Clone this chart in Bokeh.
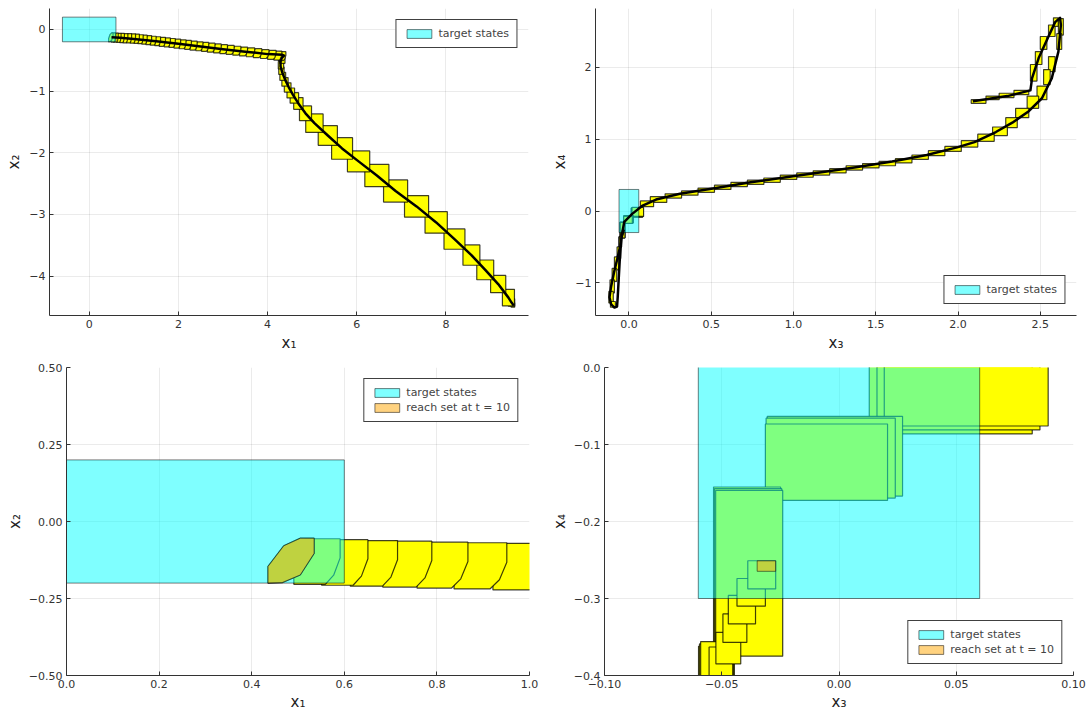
from bokeh.plotting import figure
from bokeh.layouts import row, column
from bokeh.models import Legend, LegendItem, FixedTicker, Range1d
from bokeh.embed import file_html
from bokeh.resources import INLINE

FONT = "DejaVu Sans"
YELLOW = "#ffff00"
CYAN = "#00ffff"
ORANGE = "#ffa500"

# ---------------- data ----------------
# target states (lo, hi) per coordinate
target_x1 = [-0.6, 0.6]
target_x2 = [-0.2, 0.2]
target_x3 = [-0.06, 0.06]
target_x4 = [-0.3, 0.3]

# reach set at t = 10
t10_x1_lo, t10_x2_lo, t10_dx1, t10_dx2 = 0.435, -0.200, 0.100, 0.146
t10_x3 = [-0.0349, -0.0270]
t10_x4 = [-0.2647, -0.2510]

# octagonal reach sets in (x1, x2), from t = 10 backwards: lower-left corner and extent
oct_x1_lo = [0.435, 0.491, 0.551, 0.613, 0.683, 0.757, 0.837, 0.921, 1.005,
             1.09, 1.18, 1.27, 1.37, 1.47, 1.57, 1.68, 1.79, 1.90, 2.02, 2.14,
             2.26, 2.39, 2.52, 2.65, 2.79, 2.93, 3.07, 3.22, 3.37, 3.52, 3.68,
             3.84, 4.00, 4.14, 4.24]
oct_x2_lo = [-0.200, -0.204, -0.207, -0.210, -0.213, -0.216, -0.219, -0.222, -0.226,
             -0.231, -0.238, -0.246, -0.255, -0.263, -0.273, -0.282, -0.292, -0.302,
             -0.313, -0.323, -0.334, -0.345, -0.356, -0.368, -0.380, -0.392, -0.404,
             -0.417, -0.430, -0.443, -0.457, -0.471, -0.485, -0.497, -0.505]
oct_dx1 = [0.100, 0.100, 0.100, 0.102, 0.106, 0.110, 0.114, 0.118, 0.120,
           0.12, 0.12, 0.13, 0.13, 0.13, 0.14, 0.14, 0.14, 0.15, 0.15, 0.15,
           0.16, 0.16, 0.16, 0.17, 0.17, 0.17, 0.18, 0.18, 0.18, 0.19, 0.19,
           0.19, 0.19, 0.18, 0.17]
oct_dx2 = [0.146, 0.148, 0.148, 0.148, 0.149, 0.149, 0.150, 0.151, 0.151] + [0.145] * 26
# normalized outlines: the set at t = 10 and the earlier sets
OCT_U = [0.0, 0.0, 0.34, 0.70, 1.0, 1.0, 0.70, 0.31]
OCT_V = [0.0, 0.37, 0.83, 1.0, 1.0, 0.66, 0.18, 0.01]
OCTB_U = [0.0, 0.0, 0.12, 0.25, 1.0, 1.0, 0.86, 0.68]
OCTB_V = [0.0, 0.55, 0.85, 1.0, 1.0, 0.58, 0.20, 0.0]

# box reach sets in (x1, x2), from the hook backwards: centre and size
box12_c1 = [4.33, 4.30, 4.31, 4.34, 4.39, 4.45, 4.52, 4.60, 4.69, 4.85, 5.05, 5.35,
            5.67, 6.04, 6.45, 6.87, 7.34, 7.78, 8.19, 8.57, 8.88, 9.17, 9.40, 9.47, 9.50]
box12_c2 = [-0.50, -0.58, -0.67, -0.76, -0.85, -0.94, -1.03, -1.11, -1.20, -1.36, -1.52,
            -1.72, -1.93, -2.14, -2.37, -2.62, -2.87, -3.13, -3.40, -3.66, -3.90, -4.13,
            -4.35, -4.43, -4.47]
box12_w1 = [0.12, 0.12, 0.12, 0.13, 0.14, 0.15, 0.17, 0.19, 0.21, 0.27, 0.39, 0.43,
            0.47, 0.50, 0.54, 0.54, 0.54, 0.50, 0.47, 0.38, 0.38, 0.34, 0.27, 0.14, 0.08]
box12_w2 = [0.10, 0.12, 0.12, 0.13, 0.14, 0.15, 0.16, 0.17, 0.19, 0.24, 0.30, 0.32,
            0.35, 0.34, 0.36, 0.36, 0.35, 0.35, 0.33, 0.33, 0.32, 0.28, 0.27, 0.12, 0.07]

# trajectory in (x1, x2)
traj_x1 = [9.52, 9.47, 9.40, 9.17, 8.88, 8.57, 8.19, 7.78, 7.34, 6.87, 6.45, 6.04, 5.67,
           5.35, 5.05, 4.85, 4.69, 4.57, 4.47, 4.39, 4.33, 4.29, 4.29, 4.32, 4.37, 4.33,
           4.00, 3.50, 3.00, 2.50, 2.00, 1.50, 1.00, 0.70, 0.50]
traj_x2 = [-4.48, -4.43, -4.35, -4.13, -3.90, -3.66, -3.40, -3.13, -2.87, -2.62, -2.37,
           -2.14, -1.93, -1.72, -1.52, -1.36, -1.20, -1.06, -0.93, -0.81, -0.70, -0.60,
           -0.52, -0.46, -0.425, -0.41, -0.40, -0.36, -0.32, -0.275, -0.23, -0.19, -0.155,
           -0.135, -0.125]

# box reach sets in (x3, x4), in time order
box34_x3_lo = [2.08, 2.17, 2.25, 2.34, 2.44, 2.47, 2.50, 2.55, 2.58, 2.61, 2.60, 2.55,
               2.52, 2.48, 2.42, 2.35, 2.29, 2.21, 2.12, 2.02, 1.92, 1.82, 1.72, 1.62,
               1.52, 1.42, 1.32, 1.22, 1.12, 1.02, 0.92, 0.82, 0.72, 0.62, 0.52, 0.42,
               0.32, 0.22, 0.13, 0.07, 0.0129, 0.0162, 0.0193, -0.0306, -0.0311, -0.0314,
               -0.0535, -0.0531, -0.0526, -0.0599, -0.0595, -0.0590, -0.072, -0.088,
               -0.102, -0.115, -0.122, -0.112, -0.0554, -0.0525, -0.0495, -0.0472,
               -0.0435, -0.0389]
box34_x3_hi = [2.17, 2.25, 2.34, 2.43, 2.48, 2.51, 2.54, 2.59, 2.61, 2.64, 2.63, 2.59,
               2.56, 2.54, 2.49, 2.43, 2.36, 2.30, 2.22, 2.12, 2.02, 1.92, 1.82, 1.72,
               1.62, 1.52, 1.42, 1.32, 1.22, 1.12, 1.02, 0.92, 0.82, 0.72, 0.62, 0.52,
               0.42, 0.32, 0.23, 0.15, 0.0824, 0.0857, 0.0892, 0.0271, 0.0240, 0.0207,
               -0.0249, -0.0244, -0.0240, -0.0446, -0.0450, -0.0455, -0.050, -0.062,
               -0.074, -0.088, -0.095, -0.082, -0.0453, -0.0419, -0.0393, -0.0356,
               -0.0314, -0.0270]
box34_x4_lo = [1.50, 1.55, 1.58, 1.62, 1.81, 2.04, 2.25, 2.43, 2.57, 2.45, 2.25, 1.94,
               1.76, 1.55, 1.43, 1.30, 1.16, 1.05, 0.97, 0.89, 0.83, 0.77, 0.72, 0.67,
               0.63, 0.60, 0.57, 0.53, 0.50, 0.47, 0.44, 0.40, 0.37, 0.34, 0.30, 0.26,
               0.22, 0.18, 0.12, 0.06, -0.0863, -0.0811, -0.0760, -0.1670, -0.1696,
               -0.1726, -0.3706, -0.3728, -0.3749, -0.50, -0.50, -0.50, -0.66, -0.82,
               -0.98, -1.14, -1.28, -1.34, -0.403, -0.385, -0.357, -0.333, -0.310, -0.2876]
box34_x4_hi = [1.55, 1.60, 1.64, 1.68, 2.04, 2.22, 2.43, 2.59, 2.69, 2.68, 2.47, 2.15,
               1.97, 1.74, 1.60, 1.43, 1.30, 1.17, 1.07, 0.98, 0.90, 0.84, 0.78, 0.73,
               0.69, 0.66, 0.63, 0.59, 0.56, 0.53, 0.50, 0.46, 0.43, 0.40, 0.36, 0.32,
               0.28, 0.24, 0.20, 0.14, 0.040, 0.045, 0.050, -0.0634, -0.0658, -0.0734,
               -0.1552, -0.1574, -0.1596, -0.362, -0.359, -0.356, -0.50, -0.64, -0.80,
               -0.96, -1.12, -1.26, -0.363, -0.344, -0.320, -0.296, -0.274, -0.251]

# trajectory in (x3, x4)
traj_x3 = [2.09, 2.30, 2.44, 2.45, 2.49, 2.54, 2.59, 2.62, 2.625, 2.61, 2.57, 2.51, 2.43,
           2.33, 2.23, 2.10, 2.00, 1.81, 1.60, 1.38, 1.17, 0.955, 0.74, 0.53, 0.31, 0.165,
           0.08, 0.02, -0.028, -0.04, -0.052, -0.07, -0.09, -0.108, -0.118, -0.108, -0.088,
           -0.072, -0.068, -0.062, -0.056, -0.05, -0.045, -0.038, -0.031]
traj_x4 = [1.53, 1.60, 1.68, 1.85, 2.13, 2.38, 2.63, 2.69, 2.59, 2.22, 1.85, 1.57, 1.39,
           1.23, 1.10, 0.96, 0.89, 0.78, 0.69, 0.61, 0.54, 0.47, 0.40, 0.32, 0.24, 0.16,
           0.07, -0.04, -0.15, -0.30, -0.48, -0.66, -0.85, -1.05, -1.20, -1.30, -1.345,
           -1.33, -1.20, -0.95, -0.70, -0.50, -0.38, -0.31, -0.258]

# ticks
p1_xticks, p1_xlabels = [0, 2, 4, 6, 8], ["0", "2", "4", "6", "8"]
p1_yticks, p1_ylabels = [0, -1, -2, -3, -4], ["0", "\u22121", "\u22122", "\u22123", "\u22124"]
p2_xticks, p2_xlabels = [0.0, 0.5, 1.0, 1.5, 2.0, 2.5], ["0.0", "0.5", "1.0", "1.5", "2.0", "2.5"]
p2_yticks, p2_ylabels = [-1, 0, 1, 2], ["\u22121", "0", "1", "2"]
p3_xticks, p3_xlabels = [0.0, 0.2, 0.4, 0.6, 0.8, 1.0], ["0.0", "0.2", "0.4", "0.6", "0.8", "1.0"]
p3_yticks, p3_ylabels = [-0.5, -0.25, 0.0, 0.25, 0.5], ["\u22120.50", "\u22120.25", "0.00", "0.25", "0.50"]
p4_xticks, p4_xlabels = [-0.1, -0.05, 0.0, 0.05, 0.1], ["\u22120.10", "\u22120.05", "0.00", "0.05", "0.10"]
p4_yticks, p4_ylabels = [-0.4, -0.3, -0.2, -0.1, 0.0], ["\u22120.4", "\u22120.3", "\u22120.2", "\u22120.1", "0.0"]


# ---------------- helpers ----------------
def octagons(x_lo, y_lo, dx, dy, first_special=True):
    xs, ys = [], []
    for i, (x, y, w, h) in enumerate(zip(x_lo, y_lo, dx, dy)):
        us, vs = (OCT_U, OCT_V) if (i == 0 and first_special) else (OCTB_U, OCTB_V)
        xs.append([x + u * w for u in us])
        ys.append([y + v * h for v in vs])
    return xs, ys


def make_fig(xr, yr, w, h, bl, br, bt, bb, xt, xl, yt, yl, xlabel, ylabel, lstand, astand):
    p = figure(width=w, height=h, x_range=Range1d(*xr), y_range=Range1d(*yr),
               output_backend="svg", toolbar_location=None,
               min_border_left=bl, min_border_right=br, min_border_top=bt, min_border_bottom=bb)
    p.outline_line_color = None
    p.background_fill_color = "white"
    p.xaxis.ticker = FixedTicker(ticks=xt)
    p.yaxis.ticker = FixedTicker(ticks=yt)
    p.xgrid.ticker = FixedTicker(ticks=xt)
    p.ygrid.ticker = FixedTicker(ticks=yt)
    p.xaxis.major_label_overrides = dict(zip(xt, xl))
    p.yaxis.major_label_overrides = dict(zip(yt, yl))
    p.xaxis.axis_label = xlabel
    p.yaxis.axis_label = ylabel
    for ax in (p.xaxis[0], p.yaxis[0]):
        ax.axis_line_color = "#333333"
        ax.axis_line_width = 1
        ax.major_tick_line_color = "#333333"
        ax.major_tick_in = 4
        ax.major_tick_out = 0
        ax.minor_tick_line_color = None
        ax.major_label_text_font = FONT
        ax.major_label_text_font_size = "11px"
        ax.major_label_text_color = "#333333"
        ax.major_label_standoff = lstand
        ax.axis_label_text_font = FONT
        ax.axis_label_text_font_size = "15px"
        ax.axis_label_text_font_style = "normal"
        ax.axis_label_text_color = "#222222"
        ax.axis_label_standoff = astand
    p.grid.grid_line_color = "black"
    p.grid.grid_line_alpha = 0.08
    p.grid.grid_line_width = 1
    return p


def add_legend(p, items, loc):
    leg = Legend(items=items, location=loc, margin=11, padding=7, spacing=2,
                 glyph_width=31, glyph_height=11, label_height=11, label_standoff=4,
                 label_text_font=FONT, label_text_font_size="11px",
                 border_line_color="black", border_line_alpha=0.75, border_line_width=1,
                 background_fill_color="white", background_fill_alpha=1.0)
    p.add_layout(leg)


EDGE_ALPHA = 0.75
EDGE_W = 1.2


def draw_x12(p, with_line, with_t10):
    oxs, oys = octagons(oct_x1_lo, oct_x2_lo, oct_dx1, oct_dx2)
    bl = [c - w / 2 for c, w in zip(box12_c1, box12_w1)]
    br = [c + w / 2 for c, w in zip(box12_c1, box12_w1)]
    bb = [c - h / 2 for c, h in zip(box12_c2, box12_w2)]
    bt = [c + h / 2 for c, h in zip(box12_c2, box12_w2)]
    # earliest sets first so that later sets lie on top
    p.quad(left=bl[::-1], right=br[::-1], bottom=bb[::-1], top=bt[::-1],
           fill_color=YELLOW, line_color="black", line_alpha=EDGE_ALPHA, line_width=EDGE_W)
    p.patches(xs=oxs[::-1], ys=oys[::-1], fill_color=YELLOW, line_color="black",
              line_alpha=EDGE_ALPHA, line_width=EDGE_W)
    tr = p.quad(left=[target_x1[0]], right=[target_x1[1]], bottom=[target_x2[0]],
                top=[target_x2[1]], fill_color=CYAN, fill_alpha=0.5, line_color="black",
                line_alpha=0.5, line_width=1)
    items = [LegendItem(label="target states", renderers=[tr])]
    if with_t10:
        txs, tys = octagons([t10_x1_lo], [t10_x2_lo], [t10_dx1], [t10_dx2])
        orr = p.patches(xs=txs, ys=tys, fill_color=ORANGE, fill_alpha=0.5, line_color="black",
                        line_alpha=0.5, line_width=1)
        items.append(LegendItem(label="reach set at t = 10", renderers=[orr]))
    if with_line:
        p.line(traj_x1, traj_x2, line_color="black", line_width=2.5, line_join="round")
    return items


def draw_x34(p, with_line, with_t10):
    p.quad(left=box34_x3_lo, right=box34_x3_hi, bottom=box34_x4_lo, top=box34_x4_hi,
           fill_color=YELLOW, line_color="black", line_alpha=EDGE_ALPHA, line_width=EDGE_W)
    tr = p.quad(left=[target_x3[0]], right=[target_x3[1]], bottom=[target_x4[0]],
                top=[target_x4[1]], fill_color=CYAN, fill_alpha=0.5, line_color="black",
                line_alpha=0.5, line_width=1)
    items = [LegendItem(label="target states", renderers=[tr])]
    if with_t10:
        orr = p.quad(left=[t10_x3[0]], right=[t10_x3[1]], bottom=[t10_x4[0]], top=[t10_x4[1]],
                     fill_color=ORANGE, fill_alpha=0.5, line_color="black", line_alpha=0.5,
                     line_width=1)
        items.append(LegendItem(label="reach set at t = 10", renderers=[orr]))
    if with_line:
        p.line(traj_x3, traj_x4, line_color="black", line_width=2.5, line_join="round")
    return items


# ---------------- figures ----------------
X1, X2, X3, X4 = "x\u2081", "x\u2082", "x\u2083", "x\u2084"

p1 = make_fig((-0.89, 9.85), (-4.64, 0.34), 547, 359, 49, 19, 8, 44,
              p1_xticks, p1_xlabels, p1_yticks, p1_ylabels, X1, X2, 4, 3)
add_legend(p1, draw_x12(p1, True, False), "top_right")

p2 = make_fig((-0.203, 2.72), (-1.455, 2.82), 542, 359, 48, 13, 8, 44,
              p2_xticks, p2_xlabels, p2_yticks, p2_ylabels, X3, X4, 4, 3)
add_legend(p2, draw_x34(p2, True, False), "bottom_right")

p3 = make_fig((0.0, 1.0), (-0.5, 0.5), 547, 354, 66, 18, 8, 37,
              p3_xticks, p3_xlabels, p3_yticks, p3_ylabels, X1, X2, 4, 2)
add_legend(p3, draw_x12(p3, False, True), "top_right")

p4 = make_fig((-0.1, 0.1), (-0.4, 0.0), 542, 354, 56, 16, 8, 37,
              p4_xticks, p4_xlabels, p4_yticks, p4_ylabels, X3, X4, 4, 2)
add_legend(p4, draw_x34(p4, False, True), "bottom_right")

layout = column(row(p1, p2), row(p3, p4))
open("out.html", "w").write(file_html(layout, INLINE))
